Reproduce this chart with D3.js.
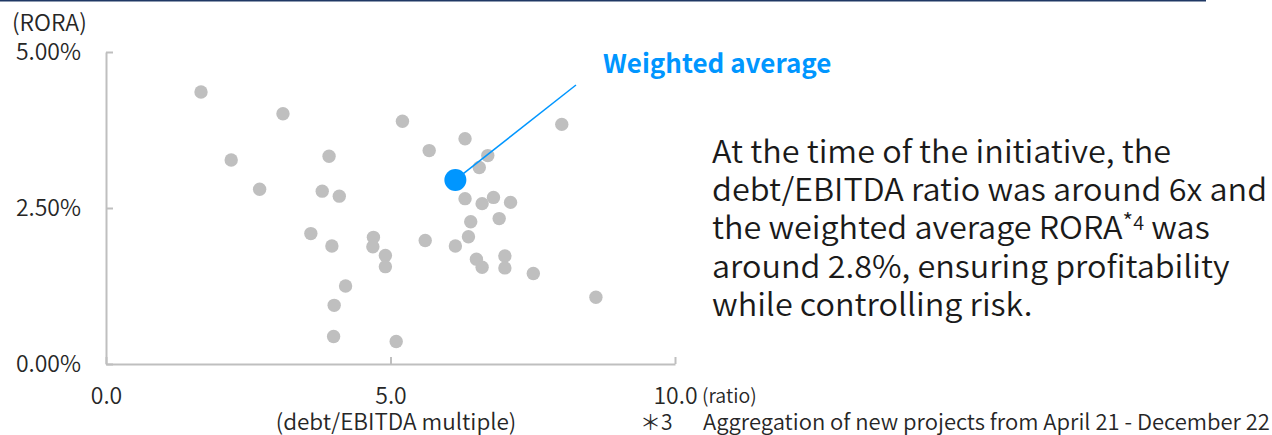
<!DOCTYPE html>
<html>
<head>
<meta charset="utf-8">
<script src="https://cdn.jsdelivr.net/npm/d3@7"></script>
<style>
  html, body { margin: 0; padding: 0; background: #ffffff; }
  svg { display: block; }
  text { font-family: "Noto Sans CJK JP", "Noto Sans", sans-serif; }
</style>
</head>
<body>
<svg id="chart" width="1272" height="435"></svg>
<script>
// Individual projects: debt/EBITDA multiple and RORA (%)
const debtEbitda = [1.67, 3.11, 5.21, 2.20, 3.92, 2.70, 3.80, 4.10, 5.68, 6.31,
                    6.71, 6.56, 8.01, 6.31, 6.61, 6.81, 7.11, 6.41, 6.91, 6.37,
                    5.61, 6.14, 3.60, 3.97, 4.70, 4.69, 4.91, 4.91, 4.21, 4.01,
                    4.00, 5.10, 6.51, 6.61, 7.01, 7.01, 7.51, 8.61];
const roraPct    = [4.36, 4.01, 3.89, 3.27, 3.33, 2.80, 2.77, 2.69, 3.42, 3.61,
                    3.34, 3.15, 3.84, 2.65, 2.57, 2.67, 2.59, 2.28, 2.33, 2.04,
                    1.98, 1.89, 2.09, 1.89, 2.03, 1.88, 1.74, 1.56, 1.25, 0.94,
                    0.44, 0.36, 1.68, 1.55, 1.73, 1.54, 1.45, 1.07];

// Weighted average across the portfolio
const avgDebtEbitda = [6.14];
const avgRoraPct = [2.95];

const xTicks = [0, 5, 10];
const yTicks = [0, 2.5, 5];

const svg = d3.select("#chart");

// Thin rule across the top of the slide
svg.append("line")
  .attr("x1", 0).attr("x2", 1206)
  .attr("y1", 0.75).attr("y2", 0.75)
  .attr("stroke", "#1f3864").attr("stroke-width", 1.5);

const x = d3.scaleLinear().domain([0, 10]).range([106, 675]);
const y = d3.scaleLinear().domain([0, 5]).range([364, 52]);

const axisColor = "#bfbfbf";
const labelColor = "#262626";
const textWeight = "350";

// Y axis with inward ticks
const yAxis = svg.append("g")
  .attr("transform", `translate(${x(0)},0)`)
  .call(d3.axisLeft(y).tickValues(yTicks)
        .tickFormat(d => d.toFixed(2) + "%")
        .tickSize(-7).tickSizeOuter(0).tickPadding(25));

// X axis with inward ticks
const xAxis = svg.append("g")
  .attr("transform", `translate(0,${y(0)})`)
  .call(d3.axisBottom(x).tickValues(xTicks)
        .tickFormat(d3.format(".1f"))
        .tickSize(-7).tickSizeOuter(0).tickPadding(24));

[yAxis, xAxis].forEach(g => {
  g.select(".domain").attr("stroke", axisColor).attr("stroke-width", 2);
  g.selectAll(".tick line").attr("stroke", axisColor).attr("stroke-width", 2);
  g.selectAll(".tick text")
    .attr("fill", labelColor)
    .style("font-family", '"Noto Sans CJK JP", sans-serif')
    .style("font-weight", textWeight)
    .style("font-size", "23px");
});

// Axis titles
svg.append("text")
  .attr("x", 12).attr("y", 31)
  .attr("fill", labelColor)
  .style("font-size", "23px").style("font-weight", textWeight)
  .text("(RORA)");

svg.append("text")
  .attr("x", 702).attr("y", 403)
  .attr("fill", labelColor)
  .style("font-size", "19.5px").style("font-weight", textWeight)
  .text("(ratio)");

svg.append("text")
  .attr("x", 396).attr("y", 430)
  .attr("text-anchor", "middle")
  .attr("fill", labelColor)
  .style("font-size", "22.5px").style("font-weight", textWeight)
  .text("(debt/EBITDA multiple)");

// Footnote
svg.append("text")
  .attr("x", 640).attr("y", 430)
  .attr("fill", labelColor)
  .style("font-size", "21px").style("font-weight", textWeight)
  .text("＊3");

svg.append("text")
  .attr("x", 703).attr("y", 430)
  .attr("fill", labelColor)
  .style("font-size", "22px").style("font-weight", textWeight)
  .text("Aggregation of new projects from April 21 - December 22");

// Project points
svg.append("g")
  .selectAll("circle")
  .data(d3.zip(debtEbitda, roraPct))
  .join("circle")
  .attr("cx", d => x(d[0]))
  .attr("cy", d => y(d[1]))
  .attr("r", 6.7)
  .attr("fill", "#bfbfbf");

// Leader line from the weighted average to its label
const blue = "#0096ff";
svg.append("line")
  .attr("x1", x(avgDebtEbitda[0])).attr("y1", y(avgRoraPct[0]))
  .attr("x2", 576).attr("y2", 85)
  .attr("stroke", blue).attr("stroke-width", 1.5);

svg.append("g")
  .selectAll("circle")
  .data(d3.zip(avgDebtEbitda, avgRoraPct))
  .join("circle")
  .attr("cx", d => x(d[0]))
  .attr("cy", d => y(d[1]))
  .attr("r", 11)
  .attr("fill", blue);

svg.append("text")
  .attr("x", 603).attr("y", 73)
  .attr("fill", blue)
  .style("font-size", "26px")
  .style("font-weight", "700")
  .text("Weighted average");

// Commentary, set slightly wide
const para = svg.append("text")
  .attr("transform", "translate(712,0) scale(1.045,1)")
  .attr("fill", "#1a1a1a")
  .style("font-size", "31px")
  .style("font-weight", textWeight);

const lines = [
  ["At the time of the initiative, the"],
  ["debt/EBITDA ratio was around 6x and"],
  ["the weighted average RORA", "*", "4", " was"],
  ["around 2.8%, ensuring profitability"],
  ["while controlling risk."]
];
const baseY = 163, lineH = 38.2;
lines.forEach((parts, i) => {
  const t = para.append("tspan").attr("x", 0).attr("y", baseY + i * lineH);
  if (parts.length === 1) {
    t.text(parts[0]);
  } else {
    t.text(parts[0]);
    para.append("tspan").attr("dy", -9).style("font-size", "22px").text(parts[1]);
    para.append("tspan").style("font-size", "19px").text(parts[2]);
    para.append("tspan").attr("dy", 9).text(parts[3]);
  }
});
</script>
</body>
</html>
